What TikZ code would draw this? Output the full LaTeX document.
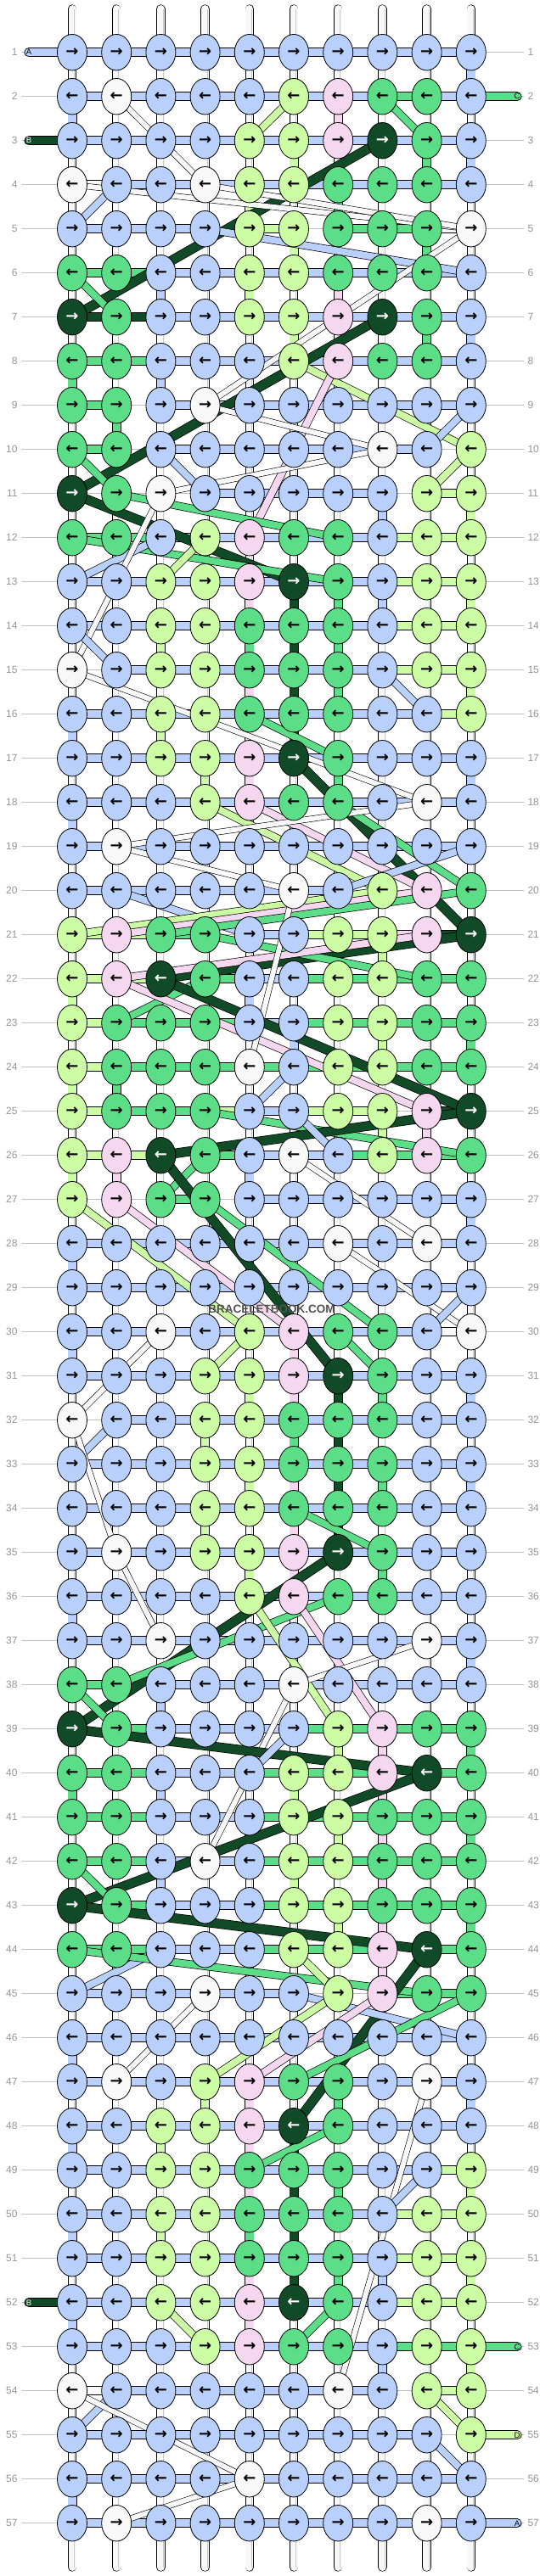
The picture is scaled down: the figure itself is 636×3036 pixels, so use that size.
\documentclass[tikz,border=0pt]{standalone}
\usepackage{fontspec}
\setmainfont{Liberation Sans}
\newfontfamily\arrowfont{DejaVu Sans}
\usetikzlibrary{shapes.geometric}
\definecolor{tha}{HTML}{B8D0FB}
\definecolor{thb}{HTML}{104A26}
\definecolor{thc}{HTML}{5CDD88}
\definecolor{thd}{HTML}{CCFCA3}
\definecolor{thp}{HTML}{F5D7F0}
\definecolor{thw}{HTML}{F8F8F8}
\colorlet{tta}{black}
\colorlet{ttb}{white}
\colorlet{ttc}{black}
\colorlet{ttd}{black}
\colorlet{ttp}{black}
\colorlet{ttw}{black}
\pgfdeclarelayer{back}
\pgfdeclarelayer{mid}
\pgfsetlayers{back,mid,main}
\tikzset{
  knot/.style={ellipse, draw, line width=0.8, minimum width=35, minimum height=42.5, inner sep=0,
    font=\arrowfont\bfseries\fontsize{18}{18}\selectfont},
  band/.style={line width=0.8, double=th#1, double distance=9.4},
  drift/.style={line width=0.7, double=th#1, double distance=8},
  warp/.style={line width=0.6, double=thw, double distance=6},
  shade/.style={postaction={draw=black!22, line width=0.8, double=none, line cap=butt, transform canvas={xshift=2.6}}},
  vwarp/.style={line width=0.7, double=thw, double distance=8.6, shade},
  warpend/.style={line width=0.7, double=thw, double distance=9, line cap=round, shade},
  rowlab/.style={inner sep=0, outer sep=5, text=black!42, font=\fontsize{12}{12}\selectfont},
  rowline/.style={draw=black!25, line width=0.8},
  endlab/.style={inner sep=0, font=\fontsize{9.5}{9.5}\selectfont},
  wmark/.style={text=black!68, font=\bfseries\fontsize{13.5}{13.5}\selectfont}
}
\begin{document}
\begin{tikzpicture}[x=1pt,y=-1pt]
\useasboundingbox (0,0) rectangle (636,3036);
\foreach \krow [count=\r] in {
  {a,a,a,a,a,a,a,a,a,a},{a,w,a,a,a,d,p,c,c,a},{a,a,a,a,d,d,p,b,c,a},{w,a,a,w,d,d,c,c,c,a},
  {a,a,a,a,d,d,c,c,c,w},{c,c,a,a,d,d,c,c,c,a},{b,c,a,a,d,d,p,b,c,a},{c,c,a,a,a,d,p,c,c,a},
  {c,c,a,w,a,a,a,a,a,a},{c,c,a,a,a,a,a,w,a,d},{b,c,w,a,a,a,a,a,d,d},{c,c,a,d,p,c,c,a,d,d},
  {a,a,d,d,p,b,c,a,d,d},{a,a,d,d,c,c,c,a,d,d},{w,a,d,d,c,c,c,a,d,d},{a,a,d,d,c,c,c,a,a,d},
  {a,a,d,d,p,b,c,a,a,a},{a,a,a,d,p,c,c,a,w,a},{a,w,a,a,a,a,a,a,a,a},{a,a,a,a,a,w,a,d,p,c},
  {d,p,c,c,a,a,d,d,p,b},{d,p,b,c,a,a,d,d,c,c},{d,c,c,c,a,a,d,d,c,c},{d,c,c,c,w,a,d,d,c,c},
  {d,c,c,c,a,a,d,d,p,b},{d,p,b,c,a,w,a,d,p,c},{d,p,c,c,a,a,a,a,a,a},{a,a,a,a,a,a,w,a,w,a},
  {a,a,a,a,a,a,a,a,a,a},{a,a,w,a,d,p,c,c,a,w},{a,a,a,d,d,p,b,c,a,a},{w,a,a,d,d,c,c,c,a,a},
  {a,a,a,d,d,c,c,c,a,a},{a,a,a,d,d,c,c,c,a,a},{a,w,a,d,d,p,b,c,a,a},{a,a,a,a,d,p,c,c,a,a},
  {a,a,w,a,a,a,a,a,w,a},{c,c,a,a,a,w,a,a,a,a},{b,c,a,a,a,a,d,p,c,c},{c,c,a,a,a,d,d,p,b,c},
  {c,c,a,a,a,d,d,c,c,c},{c,c,a,w,a,d,d,c,c,c},{b,c,a,a,a,d,d,c,c,c},{c,c,a,a,a,d,d,p,b,c},
  {a,a,a,w,a,a,d,p,c,c},{a,a,a,a,a,a,a,a,a,a},{a,w,a,d,p,c,c,a,w,a},{a,a,d,d,p,b,c,a,a,a},
  {a,a,d,d,c,c,c,a,a,d},{a,a,d,d,c,c,c,a,d,d},{a,a,d,d,c,c,c,a,d,d},{a,a,d,d,p,b,c,a,d,d},
  {a,a,a,d,p,c,c,a,d,d},{w,a,a,a,a,a,w,a,d,d},{a,a,a,a,a,a,a,a,a,d},{a,a,a,a,w,a,a,a,a,a},
  {a,w,a,a,a,a,a,a,w,a}}{
  \foreach \col [count=\c] in \krow
    \node[knot, fill=th\col, text=tt\col] (k-\r-\c) at ({85+52.2*(\c-1)},{61.7+52*(\r-1)}) {\ifodd\r\relax →\else ←\fi};
}
\foreach \r in {1,...,57}{
  \node[rowlab, anchor=east] (ll-\r) at (25.5,{61.7+52*(\r-1)}) {\r};
  \node[rowlab, anchor=west] (lr-\r) at (616.5,{61.7+52*(\r-1)}) {\r};
}
\begin{pgfonlayer}{back}
\foreach \r in {1,...,57}
  \draw[rowline] (ll-\r) -- (lr-\r);
\end{pgfonlayer}
\begin{pgfonlayer}{mid}
\foreach \c in {1,...,10}{
  \coordinate (st-\c) at ({85+52.2*(\c-1)},10.5);
  \coordinate (sb-\c) at ({85+52.2*(\c-1)},3025.5);
  \draw[warpend] (st-\c) -- (k-1-\c.center);
  \draw[warpend] (sb-\c) -- (k-57-\c.center);
}
\foreach \r in {1,...,56}{
  \pgfmathtruncatemacro\rn{\r+1}
  \foreach \c in {1,...,10}
    \draw[vwarp] (k-\r-\c.center) -- (k-\rn-\c.center);
}
\foreach \r/\c/\h in {1/10/a,2/1/a,2/7/p,3/6/d,3/9/c,3/10/a,4/5/d,4/7/c,5/6/d,5/9/c,
  6/3/a,6/5/d,6/7/p,7/6/d,7/9/c,7/10/a,8/1/c,8/3/a,9/2/c,11/8/a,11/10/d,
  13/5/p,13/6/b,13/7/c,13/8/a,13/10/d,14/3/d,14/5/c,14/6/b,14/7/c,
  15/5/p,15/6/b,15/7/c,15/10/d,16/1/a,16/3/d,16/5/p,16/6/b,
  17/4/d,17/5/p,17/7/c,17/10/a,18/1/a,21/6/a,21/8/d,22/1/d,22/5/a,
  23/6/a,23/8/d,23/10/c,24/1/d,24/2/c,25/8/d,25/9/p,26/1/d,26/2/p,26/5/a,
  27/10/a,28/1/a,30/1/a,30/6/p,31/5/d,31/6/p,31/7/b,31/8/c,31/10/a,
  32/4/d,32/6/c,32/7/b,33/5/d,33/6/p,33/7/b,33/8/c,33/10/a,34/4/d,34/6/p,34/7/b,
  35/5/d,35/6/p,35/8/c,36/1/a,37/10/a,38/3/a,39/7/d,39/8/p,39/10/c,
  40/1/c,40/3/a,40/6/d,40/8/p,41/5/a,41/7/d,41/8/p,41/10/c,42/3/a,42/6/d,42/8/p,
  43/5/a,43/7/d,43/8/p,43/10/c,44/8/p,46/1/a,47/4/d,47/5/p,47/7/c,47/10/a,
  48/1/a,48/3/d,48/5/p,48/6/b,49/5/p,49/6/b,49/7/c,49/10/d,50/1/a,50/3/d,50/5/c,50/6/b,
  51/5/p,51/6/b,51/7/c,51/8/a,51/10/d,52/1/a,52/5/p,53/8/a,53/10/d,56/1/a}{
  \pgfmathtruncatemacro\rn{\r+1}
  \draw[band=\h] (k-\r-\c.center) -- (k-\rn-\c.center);
}
\foreach \hrow [count=\r] in {
  {a,a,a,a,a,a,a,a,a},{a,a,a,a,a,a,a,c,a},{a,a,a,a,a,a,a,a,a},{w,a,a,a,a,a,a,a,a},
  {a,a,a,n,d,n,c,c,w},{c,c,a,a,a,a,a,a,a},{b,b,a,a,a,a,a,a,a},{c,c,a,a,a,a,a,a,a},
  {c,n,a,a,a,a,a,a,a},{c,n,a,a,a,a,a,a,n},{n,n,n,a,a,a,a,n,d},{c,c,a,a,a,a,a,d,d},
  {a,a,a,a,a,a,a,d,d},{a,a,a,a,a,a,a,d,d},{n,a,a,a,a,a,a,d,d},{a,a,a,a,a,a,a,a,d},
  {a,a,a,a,a,a,a,a,a},{a,a,a,a,a,a,a,a,a},{a,a,a,a,a,a,a,a,a},{a,a,a,a,a,a,n,n,n},
  {d,d,c,n,a,d,d,p,b},{d,d,n,c,a,c,c,c,c},{d,c,c,c,a,c,c,c,c},{d,c,c,c,c,c,c,c,c},
  {d,c,c,d,a,d,d,n,b},{d,d,n,c,a,a,c,c,c},{n,n,c,n,a,a,a,a,a},{a,a,a,a,a,a,a,a,a},
  {a,a,a,a,a,a,a,a,a},{a,a,a,a,a,a,a,a,w},{a,a,a,a,a,a,a,a,a},{n,a,a,a,a,a,a,a,a},
  {a,a,a,a,a,a,a,a,a},{a,a,a,a,a,a,a,a,a},{a,a,a,a,a,a,a,a,a},{a,a,a,a,a,a,a,a,a},
  {a,a,a,a,a,a,a,a,a},{c,n,a,a,a,a,a,a,a},{n,c,a,a,a,c,c,c,c},{c,c,a,a,c,c,c,n,c},
  {c,c,a,a,c,c,c,c,c},{c,c,a,a,c,c,c,c,c},{n,c,a,a,c,c,c,c,c},{c,c,a,a,c,c,c,n,c},
  {a,a,a,a,a,n,n,c,c},{a,a,a,a,a,a,a,a,a},{a,a,a,a,a,a,a,a,a},{a,a,a,a,a,a,a,a,a},
  {a,a,a,a,a,a,a,a,d},{a,a,a,a,a,a,a,d,d},{a,a,a,a,a,a,a,d,d},{a,a,a,a,a,a,a,d,d},
  {a,a,a,a,a,a,a,c,c},{w,a,a,a,a,a,a,n,d},{a,a,a,a,a,a,a,a,n},{a,a,a,a,a,a,a,a,a},
  {a,a,a,a,a,a,a,a,a}}{
  \foreach \h [count=\c] in \hrow {
    \pgfmathtruncatemacro\cn{\c+1}
    \if\h n\else\draw[band=\h] (k-\r-\c.center) -- (k-\r-\cn.center);\fi
  }
}
\foreach \ra/\ca/\rb/\cb/\h in {2/6/3/5/d,2/8/3/9/c,2/2/4/4/w,3/8/7/1/b,4/1/5/10/w,4/4/5/10/w,
  4/2/5/1/a,5/4/6/10/a,5/10/9/4/w,6/1/7/2/c,7/8/11/1/b,8/6/10/10/d,8/7/12/5/p,9/10/10/9/a,
  9/4/10/8/w,10/8/11/3/w,10/3/11/4/a,10/1/11/2/c,11/1/13/6/b,11/2/12/7/c,12/1/13/7/c,
  12/3/13/1/a,12/4/13/3/d,10/10/11/9/d,11/3/15/1/w,14/1/15/2/a,15/1/18/9/w,15/8/16/9/a,
  16/5/17/7/c,17/6/21/10/b,18/7/20/10/c,18/4/20/8/d,18/5/20/9/p,18/9/19/2/w,19/2/20/6/w,
  19/10/20/7/a,20/2/21/5/a,20/8/21/1/d,20/9/21/2/p,20/10/21/3/c,21/10/22/3/b,21/4/22/9/c,
  21/9/22/2/p,22/4/23/2/c,22/2/25/9/p,22/3/25/10/b,20/6/24/5/w,24/6/25/5/a,25/4/26/10/c,
  25/10/26/3/b,25/6/26/7/a,26/4/27/3/c,26/3/31/7/b,27/4/30/8/c,27/1/30/5/d,27/2/30/6/p,
  26/6/28/9/w,28/7/30/10/w,29/10/30/9/a,30/3/32/1/w,30/5/31/4/d,30/7/31/8/c,32/2/33/1/a,
  32/1/35/2/w,34/6/35/8/c,35/7/39/1/b,36/7/38/2/c,36/5/39/7/d,36/6/39/8/p,35/2/37/3/w,
  37/9/38/6/w,38/6/42/4/w,38/1/39/2/c,39/1/40/9/b,39/6/40/5/a,40/9/43/1/b,42/1/43/2/c,
  43/1/44/9/b,44/3/45/1/a,44/1/45/9/c,44/6/45/7/d,44/9/48/6/b,45/4/47/2/w,45/6/46/10/a,
  45/10/47/6/c,45/7/47/4/d,45/8/47/5/p,48/7/49/5/c,47/9/54/7/w,49/9/50/8/a,52/3/53/4/d,
  52/7/53/6/c,54/2/55/1/a,54/1/56/5/w,54/9/55/10/d,55/9/56/10/a,56/5/57/2/w}{
  \if\h w\draw[warp] (k-\ra-\ca.center) -- (k-\rb-\cb.center);
  \else\if\h b\draw[drift=b, double distance=10] (k-\ra-\ca.center) -- (k-\rb-\cb.center);
  \else\draw[drift=\h] (k-\ra-\ca.center) -- (k-\rb-\cb.center);\fi\fi
}
\end{pgfonlayer}
\foreach \r/\c/\x/\h/\t in {1/1/34/a/A,3/1/34/b/B,52/1/34/b/B,2/10/609/c/C,53/10/609/c/C,55/10/609/d/D,57/10/609/a/A}{
  \node[endlab, text=tt\h] (te-\r) at (\x,{61.7+52*(\r-1)}) {\t};
  \begin{pgfonlayer}{mid}
  \draw[band=\h, line cap=round] (te-\r.center) -- (k-\r-\c.center);
  \end{pgfonlayer}
}
\node[wmark] (wm) at (320,1543) {BRACELETBOOK.COM};
\end{tikzpicture}
\end{document}
